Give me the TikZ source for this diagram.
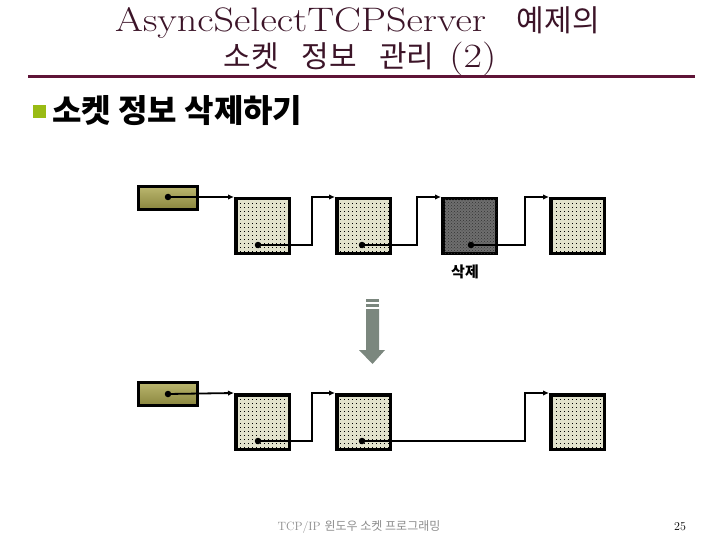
\documentclass[tikz,border=0pt]{standalone}
\usepackage{graphicx}
\usepackage{fontspec}
\newfontfamily\cjk{Noto Sans CJK KR}
\usetikzlibrary{arrows.meta,patterns,shadings}
\definecolor{titlec}{RGB}{60,20,40}
\definecolor{rulec}{RGB}{95,20,55}
\definecolor{bulletc}{RGB}{153,187,20}
\definecolor{cellbg}{RGB}{226,226,204}
\definecolor{delbg}{RGB}{110,110,110}
\definecolor{headtop}{RGB}{186,182,110}
\definecolor{headbot}{RGB}{138,134,62}
\definecolor{arrowc}{RGB}{123,135,126}
\definecolor{footc}{RGB}{140,140,140}
\pgfdeclarepatternformonly{celldots}{\pgfpoint{-1pt}{-1pt}}{\pgfpoint{5pt}{5pt}}{\pgfpoint{4pt}{4pt}}{%
  \pgfpathrectangle{\pgfpointorigin}{\pgfpoint{1pt}{1pt}}\pgfusepath{fill}}
\newcommand{\wideLat}[1]{\scalebox{1.18}[1]{\fontsize{34}{36}\selectfont #1}}
\newcommand{\titleKo}[1]{{\cjk\fontsize{30}{32}\selectfont #1}}
\tikzset{
  cell/.style={draw, line width=3.5pt, fill=cellbg, minimum width=53.5pt, minimum height=54.5pt,
    inner sep=0pt, postaction={pattern=celldots, pattern color=black}},
  delcell/.style={draw, line width=3.5pt, fill=delbg, minimum width=53.5pt, minimum height=54.5pt,
    inner sep=0pt, postaction={pattern=crosshatch dots, pattern color=black!80}},
  headbox/.style={draw, line width=3pt, top color=headtop, bottom color=headbot,
    minimum width=59pt, minimum height=23pt, inner sep=0pt},
  link/.style={line width=1.8pt, -{Latex[length=6pt,width=5.5pt]}},
  srcdot/.style={circle, fill=black, inner sep=0pt, minimum size=6.5pt},
}
\begin{document}
\begin{tikzpicture}[x=1pt,y=-1pt]
\useasboundingbox (0,0) rectangle (720,540);

% title
\node[text=titlec, inner sep=0pt] (t1) at (357.5,23)
  {\wideLat{AsyncSelectTCPServer}\hspace{31pt}\titleKo{예제의}};
\node[text=titlec, inner sep=0pt] (t2) at (360,59)
  {\titleKo{소켓}\hspace{23pt}\titleKo{정보}\hspace{22pt}\titleKo{관리}\hspace{15pt}\wideLat{(2)}};
\draw[rulec, line width=3pt] (28,77) -- (695,77);

% bullet
\node[fill=bulletc, minimum size=13pt, inner sep=0pt] (bul) at (39.5,112) {};
\node[anchor=west, inner sep=0pt] (sub) at (52,111)
  {\cjk\bfseries\fontsize{32}{34}\selectfont 소켓 정보 삭제하기};

% top row
\node[headbox] (h1) at (168,198) {};
\node[cell] (a1) at (262.5,226) {};
\node[cell] (a2) at (363.5,226) {};
\node[delcell] (a3) at (469.5,226) {};
\node[cell] (a4) at (577.5,226) {};
\node[srcdot] (hd1) at (168,197) {};
\node[srcdot] (ad1) at (258,245) {};
\node[srcdot] (ad2) at (362,245) {};
\node[srcdot] (ad3) at (471,245) {};
\coordinate (ak1) at (312,245);
\coordinate (ak2) at (417,245);
\coordinate (ak3) at (525,245);
\draw[link] (hd1.center) -- (a1.north west);
\draw[link] (ad1.center) -- (ak1) |- (a2.north west);
\draw[link] (ad2.center) -- (ak2) |- (a3.north west);
\draw[link] (ad3.center) -- (ak3) |- (a4.north west);
\node[inner sep=0pt] (del) at (465,272) {\cjk\bfseries\fontsize{15}{17}\selectfont 삭제};

% big arrow
\fill[arrowc] (366,299) rectangle (379,302);
\fill[arrowc] (366,304) rectangle (379,307);
\fill[arrowc] (366,309) -- (379,309) -- (379,350) -- (385,350) -- (372.5,364) -- (359,350) -- (366,350) -- cycle;

% bottom row
\node[headbox] (h2) at (168,394) {};
\node[cell] (b1) at (262.5,422) {};
\node[cell] (b2) at (363.5,422) {};
\node[cell] (b4) at (577.5,422) {};
\node[srcdot] (hd2) at (168,394) {};
\node[srcdot] (bd1) at (258,441) {};
\node[srcdot] (bd2) at (362,441) {};
\coordinate (bk1) at (312,441);
\coordinate (bk2) at (525,441);
\draw[link] (hd2.center) -- (b1.north west);
\draw[link] (bd1.center) -- (bk1) |- (b2.north west);
\draw[link] (bd2.center) -- (bk2) |- (b4.north west);

% footer
\node[text=footc, inner sep=0pt] (foot) at (359,527)
  {\fontsize{12}{14}\selectfont TCP/IP {\cjk 윈도우 소켓 프로그래밍}};
\node[inner sep=0pt] (pg) at (680,527) {\fontsize{12}{14}\selectfont 25};
\end{tikzpicture}
\end{document}
